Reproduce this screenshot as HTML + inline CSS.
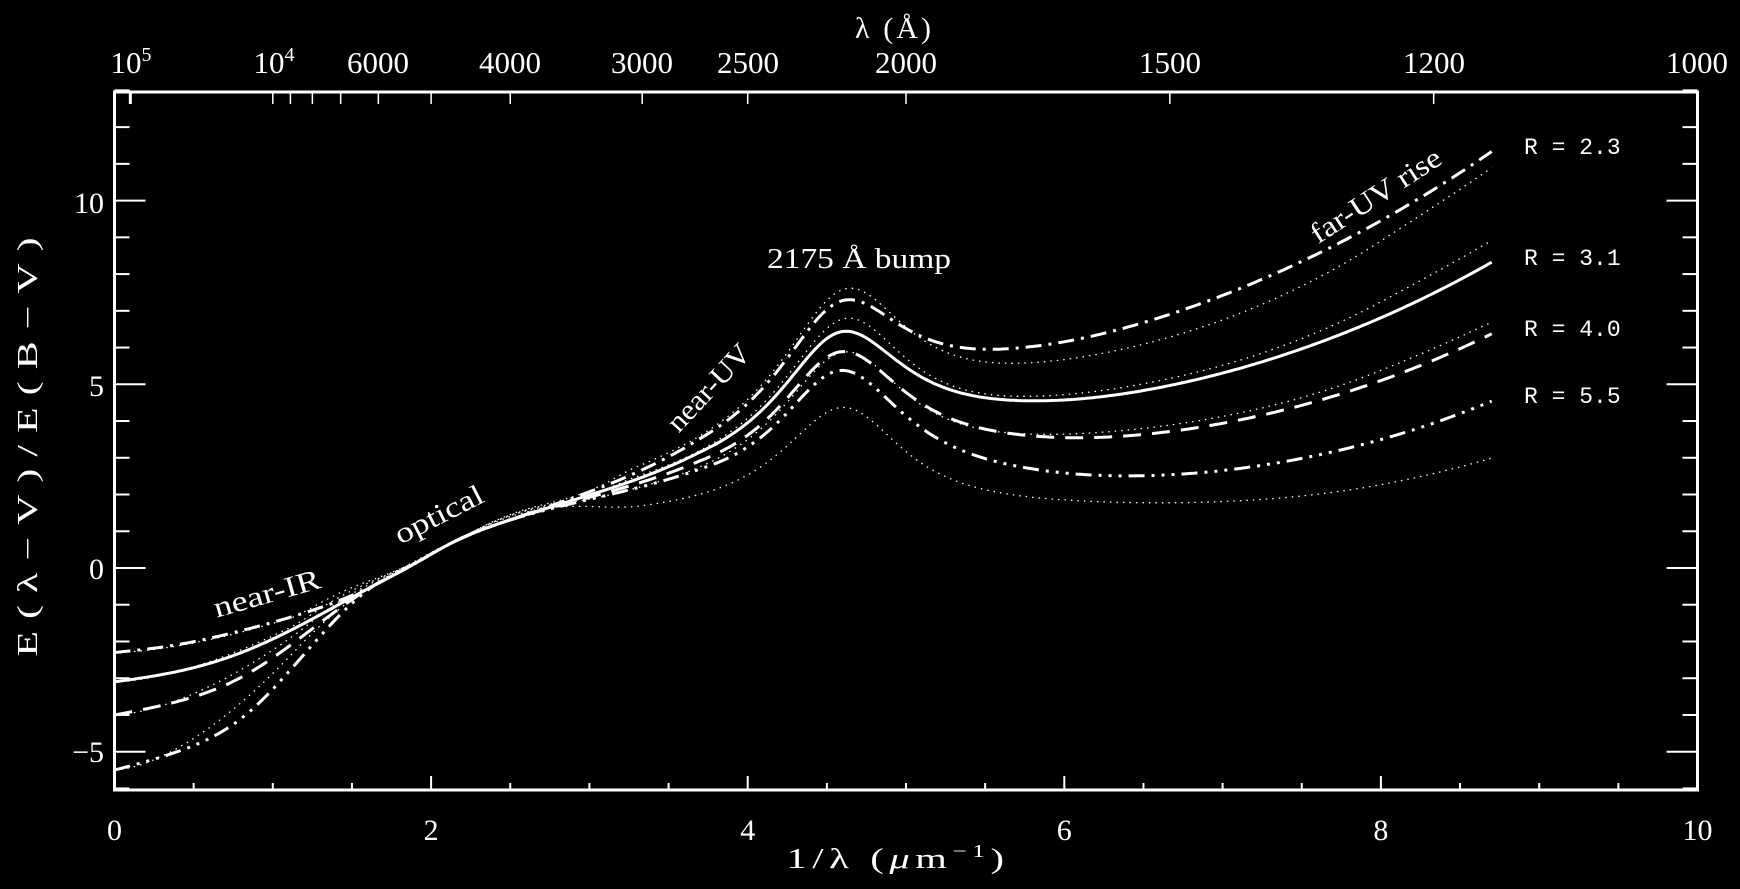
<!DOCTYPE html>
<html><head><meta charset="utf-8">
<style>
html,body{margin:0;padding:0;background:#000;}
svg{display:block;}
text{fill:#fff;font-family:"Liberation Serif",serif;}
</style></head>
<body>
<svg id="s" width="1740" height="889" viewBox="0 0 1740 889" xmlns="http://www.w3.org/2000/svg">
<rect width="1740" height="889" fill="#000"/>
<g id="ticks" stroke="#fff" stroke-width="2" fill="none"></g>
<g id="curves" fill="none" stroke="#fff"></g>
<rect x="114.5" y="92" width="1583" height="698" fill="none" stroke="#fff" stroke-width="3"/>
<g font-size="30" text-anchor="middle">
<text x="114.5" y="840">0</text>
<text x="431.1" y="840">2</text>
<text x="747.7" y="840">4</text>
<text x="1064.3" y="840">6</text>
<text x="1380.9" y="840">8</text>
<text x="1697.5" y="840">10</text>
</g>
<g font-size="30" text-anchor="end">
<text x="104" y="213">10</text>
<text x="104" y="396">5</text>
<text x="104" y="579">0</text>
<text x="104" y="762">−5</text>
</g>
<g font-size="31" text-anchor="middle">
<text x="131" y="73">10<tspan font-size="20" dy="-12">5</tspan></text>
<text x="274" y="73">10<tspan font-size="20" dy="-12">4</tspan></text>
<text x="378" y="73">6000</text>
<text x="510" y="73">4000</text>
<text x="642" y="73">3000</text>
<text x="748" y="73">2500</text>
<text x="906" y="73">2000</text>
<text x="1170" y="73">1500</text>
<text x="1434" y="73">1200</text>
<text x="1697" y="73">1000</text>
</g>
<text x="893" y="38" font-size="30" text-anchor="middle" textLength="76" lengthAdjust="spacing">λ (Å)</text>
<g transform="translate(898,868) scale(1.4,1)"><text x="0" y="0" font-size="29" text-anchor="middle" letter-spacing="4">1/λ (<tspan font-style="italic">μ</tspan>m<tspan font-size="18" dy="-11">−1</tspan><tspan dy="11">)</tspan></text></g>
<g transform="translate(37,441) rotate(-90) scale(1.5,1)"><text x="0" y="0" font-size="28" text-anchor="middle" letter-spacing="8">E(λ−V)/E(B−V)</text></g>
<g font-size="23" style="white-space:pre">
<text x="1524" y="154" style="font-family:'Liberation Mono',monospace">R = 2.3</text>
<text x="1524" y="265" style="font-family:'Liberation Mono',monospace">R = 3.1</text>
<text x="1524" y="336" style="font-family:'Liberation Mono',monospace">R = 4.0</text>
<text x="1524" y="403" style="font-family:'Liberation Mono',monospace">R = 5.5</text>
</g>
<g font-size="29" text-anchor="middle" dominant-baseline="central">
<text x="859" y="268" dominant-baseline="auto" textLength="184" lengthAdjust="spacingAndGlyphs">2175 Å bump</text>
<text transform="translate(709,388) rotate(-47)" textLength="108" lengthAdjust="spacingAndGlyphs">near-UV</text>
<text transform="translate(267,594) rotate(-16)" textLength="110" lengthAdjust="spacingAndGlyphs">near-IR</text>
<text transform="translate(439,515) rotate(-27)" textLength="96" lengthAdjust="spacingAndGlyphs">optical</text>
<text transform="translate(1376,196) rotate(-33)" textLength="150" lengthAdjust="spacingAndGlyphs">far-UV rise</text>
</g>
</svg>
<script>
var X0=114.5,SX=158.3,Y0=568,SY=36.74;
function px(x){return X0+SX*x;}function py(v){return Y0-SY*v;}
var NS="http://www.w3.org/2000/svg";
function ln(g,x1,y1,x2,y2,w){var l=document.createElementNS(NS,"line");l.setAttribute("x1",x1);l.setAttribute("y1",y1);l.setAttribute("x2",x2);l.setAttribute("y2",y2);if(w)l.setAttribute("stroke-width",w);g.appendChild(l);}
var tg=document.getElementById("ticks");
for(var i=0;i<=20;i++){var x=px(i*0.5),L=(i%4==0)?14:7;ln(tg,x,790,x,790-L);}
for(var v=-6;v<=13;v++){var y=py(v),L=(v%5==0)?31:15;ln(tg,114.5,y,114.5+L,y);ln(tg,1697.5,y,1697.5-L,y);}
[100000,10000,9000,8000,7000,6000,5000,4000,3000,2500,2000,1500,1200].forEach(function(w){var x=px(1e4/w);ln(tg,x,92,x,104,w==100000?3:1.5);});
function ccm(x,R){var a,b;
 if(x<1.1){a=0.574*Math.pow(x,1.61);b=-0.527*Math.pow(x,1.61);}
 else if(x<3.3){var y=x-1.82;a=1+0.17699*y-0.50447*y*y-0.02427*Math.pow(y,3)+0.72085*Math.pow(y,4)+0.01979*Math.pow(y,5)-0.77530*Math.pow(y,6)+0.32999*Math.pow(y,7);
  b=1.41338*y+2.28305*y*y+1.07233*Math.pow(y,3)-5.38434*Math.pow(y,4)-0.62251*Math.pow(y,5)+5.30260*Math.pow(y,6)-2.09002*Math.pow(y,7);}
 else if(x<8){var Fa=0,Fb=0;if(x>=5.9){var d=x-5.9;Fa=-0.04473*d*d-0.009779*d*d*d;Fb=0.2130*d*d+0.1207*d*d*d;}
  a=1.752-0.316*x-0.104/((x-4.67)*(x-4.67)+0.341)+Fa;b=-3.090+1.825*x+1.206/((x-4.62)*(x-4.62)+0.263)+Fb;}
 else{var y=x-8;a=-1.073-0.628*y+0.137*y*y-0.070*y*y*y;b=13.670+4.257*y-0.420*y*y+0.374*y*y*y;}
 return R*(a-1)+b;}
function f99uv(x,R){var c2=-0.824+4.717/R,c1=2.030-3.007*c2,x0=4.596,g=0.99,c3=3.23,c4=0.41;
 var D=x*x/(Math.pow(x*x-x0*x0,2)+x*x*g*g);var F=0;if(x>=5.9){var d=x-5.9;F=0.5392*d*d+0.05644*d*d*d;}
 return c1+c2*x+c3*D+c4*F;}
function spline(xs,ys){var n=xs.length,h=[],al=[],l=[1],mu=[0],z=[0],c=[],b=[],d=[];
 for(var i=0;i<n-1;i++)h[i]=xs[i+1]-xs[i];
 for(var i=1;i<n-1;i++)al[i]=3/h[i]*(ys[i+1]-ys[i])-3/h[i-1]*(ys[i]-ys[i-1]);
 for(var i=1;i<n-1;i++){l[i]=2*(xs[i+1]-xs[i-1])-h[i-1]*mu[i-1];mu[i]=h[i]/l[i];z[i]=(al[i]-h[i-1]*z[i-1])/l[i];}
 l[n-1]=1;z[n-1]=0;c[n-1]=0;
 for(var j=n-2;j>=0;j--){c[j]=z[j]-mu[j]*c[j+1];b[j]=(ys[j+1]-ys[j])/h[j]-h[j]*(c[j+1]+2*c[j])/3;d[j]=(c[j+1]-c[j])/(3*h[j]);}
 return function(x){var i=0;while(i<n-2&&x>xs[i+1])i++;var t=x-xs[i];return ys[i]+b[i]*t+c[i]*t*t+d[i]*t*t*t;};}
function f99(R){var xs=[0,0.377,0.820,1.667,1.828,2.141,2.433,3.704,3.846];
 var ys=[-R,0.265*R/3.1-R,0.829*R/3.1-R,-0.426+0.0044*R,-0.050+0.0016*R,0.701+0.0016*R,1.208+0.0032*R-0.00033*R*R,f99uv(3.704,R),f99uv(3.846,R)];
 var s=spline(xs,ys);return function(x){return x<3.704?s(x):f99uv(x,R);};}
var cg=document.getElementById("curves");
function path(fn,attrs){var d="";for(var x=0;x<=8.7001;x+=0.02){d+=(d?"L":"M")+px(x).toFixed(1)+","+py(fn(x)).toFixed(1);}
 var p=document.createElementNS(NS,"path");p.setAttribute("d",d);for(var k in attrs)p.setAttribute(k,attrs[k]);cg.appendChild(p);}
[2.3,3.1,4.0,5.5].forEach(function(R){path(function(x){return ccm(x,R);},{"stroke-width":1.3,"stroke-dasharray":"1.5 5"});});
var sty={2.3:"16 7 3 7",3.1:"",4.0:"18 11",5.5:"16 7 3 7 3 7 3 7"};
[2.3,3.1,4.0,5.5].forEach(function(R){var f=f99(R);var a={"stroke-width":3};if(sty[R])a["stroke-dasharray"]=sty[R];path(f,a);});
</script>
</body></html>
